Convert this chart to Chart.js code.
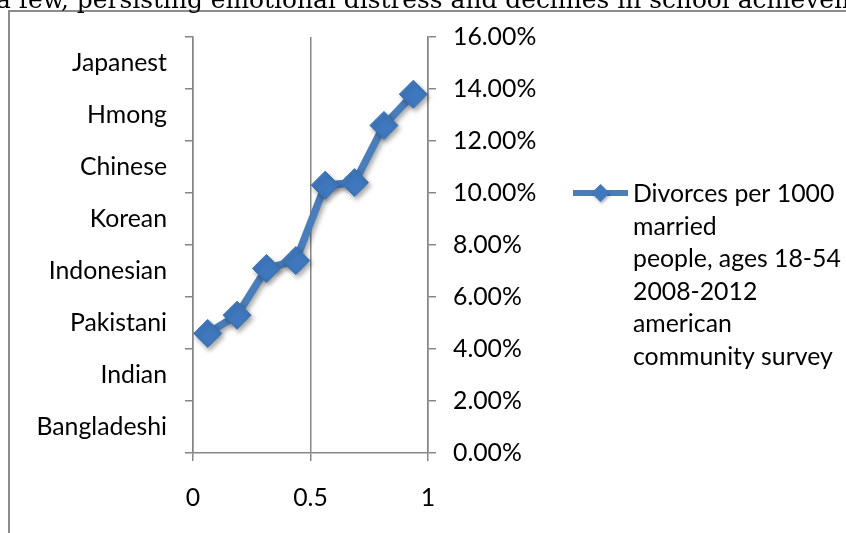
<!DOCTYPE html>
<html>
<head>
<meta charset="utf-8">
<script src="https://cdn.jsdelivr.net/npm/chart.js@4/dist/chart.umd.min.js"></script>
<style>
  html, body { margin: 0; padding: 0; background: #fff; overflow: hidden; }
  #wrap { position: relative; width: 846px; height: 533px; overflow: hidden; }
  #c { position: absolute; left: 0; top: 0; }
  #doc {
    position: absolute; left: -4px; top: -13px; white-space: nowrap;
    font-family: "DejaVu Serif", serif; font-size: 24.9px; line-height: 26px; color: #000;
  }
</style>
</head>
<body>
<div id="wrap">
  <canvas id="c" width="846" height="533"></canvas>
  <div id="doc">a few, persisting emotional distress and declines in school achievement</div>
</div>
<script>
// Groups shown on the left category axis, bottom to top
const groups = ['Bangladeshi', 'Indian', 'Pakistani', 'Indonesian', 'Korean', 'Chinese', 'Hmong', 'Japanest'];
// Divorce rate series (percent)
const divorceRates = [4.6, 5.3, 7.1, 7.4, 10.3, 10.4, 12.6, 13.8];
// Right value axis range and step (percent)
const rateAxisMin = 0;
const rateAxisMax = 16;
const rateAxisStep = 2;
// Bottom helper axis range and step
const bottomAxisMin = 0;
const bottomAxisMax = 1;
const bottomAxisStep = 0.5;
// Series name, wrapped as in the legend
const seriesName = ['Divorces per 1000', 'married', 'people, ages 18-54', '2008-2012', 'american', 'community survey'];

const AXIS_GREY = '#868686';
const LINE_BLUE = '#4a7ebb';
const MARK_BLUE = '#3f78be';
const FONT = { family: 'Lato', size: 24.8 };

// Outer chart frame (left and top edges visible)
const framePlugin = {
  id: 'frame',
  beforeDraw(chart) {
    const ctx = chart.ctx;
    ctx.save();
    ctx.strokeStyle = '#8c8c8c';
    ctx.lineWidth = 2;
    ctx.beginPath();
    ctx.moveTo(9, 540);
    ctx.lineTo(9, 11);
    ctx.lineTo(860, 11);
    ctx.stroke();
    ctx.restore();
  }
};

// Soft drop shadow under the series line and markers
const shadowPlugin = {
  id: 'seriesShadow',
  beforeDatasetsDraw(chart) {
    const ctx = chart.ctx;
    ctx.save();
    ctx.shadowColor = 'rgba(0,0,0,0.35)';
    ctx.shadowBlur = 5;
    ctx.shadowOffsetX = 2;
    ctx.shadowOffsetY = 3;
  },
  afterDatasetsDraw(chart) {
    chart.ctx.restore();
  }
};

// Legend with the wrapped series name
const legendPlugin = {
  id: 'wrappedLegend',
  afterDraw(chart) {
    const ctx = chart.ctx;
    const ds = chart.data.datasets[0];
    const x0 = 573, x1 = 628, yMid = 193;
    ctx.save();
    ctx.strokeStyle = ds.borderColor;
    ctx.lineWidth = 6;
    ctx.beginPath();
    ctx.moveTo(x0, yMid);
    ctx.lineTo(x1, yMid);
    ctx.stroke();
    const cx = (x0 + x1) / 2, r = 9;
    ctx.shadowColor = 'rgba(0,0,0,0.3)';
    ctx.shadowBlur = 3;
    ctx.shadowOffsetX = 1;
    ctx.shadowOffsetY = 2;
    ctx.fillStyle = ds.pointBackgroundColor;
    ctx.beginPath();
    ctx.moveTo(cx, yMid - r);
    ctx.lineTo(cx + r, yMid);
    ctx.lineTo(cx, yMid + r);
    ctx.lineTo(cx - r, yMid);
    ctx.closePath();
    ctx.fill();
    ctx.shadowColor = 'transparent';
    ctx.fillStyle = '#000';
    ctx.font = FONT.size + 'px ' + FONT.family;
    ctx.textAlign = 'left';
    ctx.textBaseline = 'middle';
    const lines = ds.label;
    for (let i = 0; i < lines.length; i++) {
      ctx.fillText(lines[i], 633, yMid + 1 + i * 32.6);
    }
    ctx.restore();
  }
};

new Chart(document.getElementById('c'), {
  type: 'line',
  data: {
    labels: groups,
    datasets: [{
      label: seriesName,
      data: divorceRates,
      xAxisID: 'xc',
      yAxisID: 'y',
      borderColor: LINE_BLUE,
      borderWidth: 7.5,
      tension: 0,
      pointStyle: 'rectRot',
      pointRadius: 14,
      pointBackgroundColor: MARK_BLUE,
      pointBorderColor: '#3a70b2',
      pointBorderWidth: 1
    }]
  },
  options: {
    responsive: false,
    animation: false,
    events: [],
    layout: { padding: { left: 0, top: 37, right: 308, bottom: 0 } },
    plugins: { legend: { display: false }, tooltip: { enabled: false } },
    scales: {
      xc: { type: 'category', position: 'bottom', offset: true, display: false },
      x: {
        type: 'linear', position: 'bottom',
        min: bottomAxisMin, max: bottomAxisMax,
        ticks: { stepSize: bottomAxisStep, padding: 22, color: '#000', font: FONT,
                 callback: v => String(v) },
        grid: { color: AXIS_GREY, lineWidth: 1.5, tickLength: 8, drawOnChartArea: true },
        border: { color: AXIS_GREY, width: 1.5 },
        afterFit(s) { s.height = 80; }
      },
      yc: {
        type: 'category', position: 'left', labels: groups, reverse: true, offset: true,
        ticks: { padding: 18, color: '#000', font: FONT, autoSkip: false },
        grid: { offset: true, drawOnChartArea: false, tickLength: 8, color: AXIS_GREY, lineWidth: 1.5 },
        border: { color: AXIS_GREY, width: 1.5 },
        afterFit(s) { s.width = 193; }
      },
      y: {
        type: 'linear', position: 'right',
        min: rateAxisMin, max: rateAxisMax,
        ticks: { stepSize: rateAxisStep, padding: 17, color: '#000', font: FONT,
                 callback: v => v.toFixed(2) + '%' },
        grid: { drawOnChartArea: false, tickLength: 8, color: AXIS_GREY, lineWidth: 1.5 },
        border: { color: AXIS_GREY, width: 1.5 },
        afterFit(s) { s.width = 110; }
      }
    }
  },
  plugins: [framePlugin, shadowPlugin, legendPlugin]
});
</script>
</body>
</html>
